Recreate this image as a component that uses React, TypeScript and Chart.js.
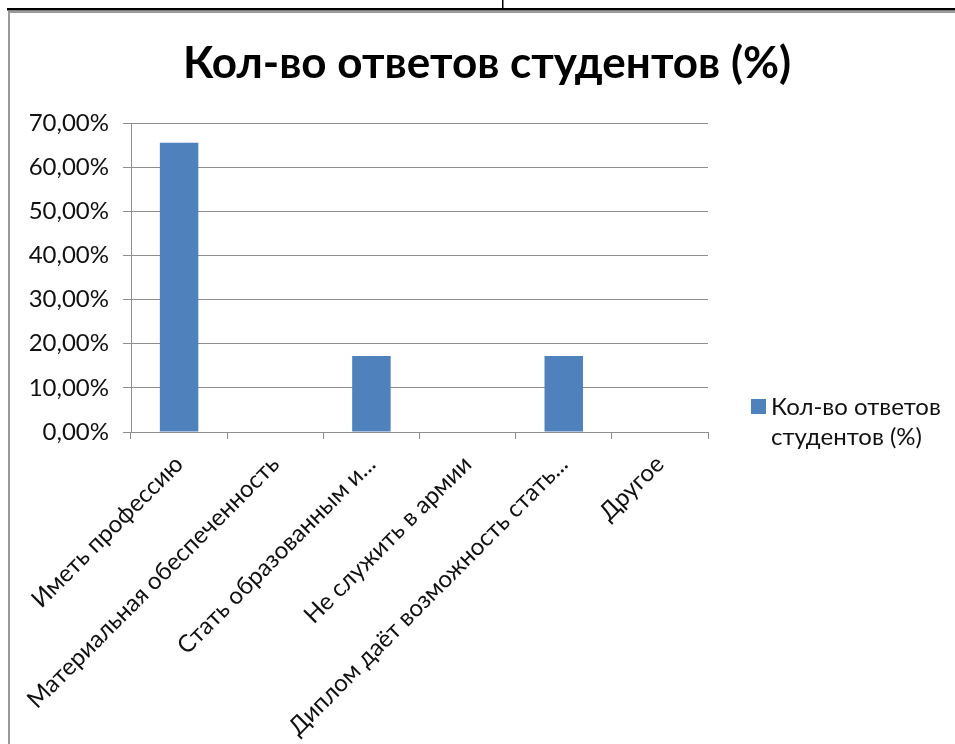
import React, { useEffect, useRef } from "react";
import { Chart, registerables } from "chart.js";

Chart.register(...registerables);

const CATEGORIES = [
  "Иметь профессию",
  "Материальная обеспеченность",
  "Стать образованным и...",
  "Не служить в армии",
  "Диплом даёт возможность стать...",
  "Другое",
];
const VALUES = [65.52, 0, 17.24, 0, 17.24, 0];
const SERIES_LABEL = "Кол-во ответов студентов (%)";
const TITLE = "Кол-во ответов студентов (%)";
const Y_MIN = 0;
const Y_MAX = 70;
const Y_STEP = 10;

const FONT = "Lato, 'Open Sans', sans-serif";
const BAR_COLOR = "#4F81BD";
const GRID_COLOR = "#8E8E8E";
const TEXT_COLOR = "#111111";
const FONT_SIZE = 24;

const framePlugin = {
  id: "frame",
  beforeDraw(chart: any) {
    const { ctx, width, height } = chart;
    ctx.save();
    ctx.fillStyle = "#ffffff";
    ctx.fillRect(0, 0, width, height);
    // table rule at top
    ctx.fillStyle = "#000000";
    ctx.fillRect(7, 8, width - 7, 2.5);
    ctx.fillRect(502, 0, 1.5, 9);
    // grey chart border
    ctx.strokeStyle = "#9a9a9a";
    ctx.lineWidth = 2;
    ctx.beginPath();
    ctx.moveTo(9, height);
    ctx.lineTo(9, 12);
    ctx.lineTo(width, 12);
    ctx.stroke();
    ctx.restore();
  },
};

const titlePlugin = {
  id: "centeredTitle",
  afterDraw(chart: any) {
    const { ctx } = chart;
    ctx.save();
    ctx.font = `bold 44px ${FONT}`;
    ctx.fillStyle = "#000000";
    ctx.textAlign = "center";
    ctx.textBaseline = "middle";
    ctx.fillText(TITLE, 487, 64);
    ctx.restore();
  },
};

const legendPlugin = {
  id: "customLegend",
  afterDraw(chart: any) {
    const { ctx } = chart;
    const ds = chart.data.datasets[0];
    ctx.save();
    ctx.font = `${FONT_SIZE}px ${FONT}`;
    const words = String(ds.label).split(" ");
    const maxW = 180;
    const lines: string[] = [];
    let cur = "";
    for (const w of words) {
      const t = cur ? cur + " " + w : w;
      if (ctx.measureText(t).width > maxW && cur) {
        lines.push(cur);
        cur = w;
      } else cur = t;
    }
    if (cur) lines.push(cur);
    ctx.fillStyle = ds.backgroundColor;
    ctx.fillRect(751, 399, 15, 15);
    ctx.fillStyle = TEXT_COLOR;
    ctx.textBaseline = "middle";
    ctx.textAlign = "left";
    lines.forEach((l, i) => ctx.fillText(l, 771, 407 + i * 30));
    ctx.restore();
  },
};

export default function App() {
  const ref = useRef<HTMLCanvasElement>(null);
  useEffect(() => {
    document.body.style.margin = "0";
    const chart = new Chart(ref.current as HTMLCanvasElement, {
      type: "bar",
      data: {
        labels: CATEGORIES,
        datasets: [
          {
            label: SERIES_LABEL,
            data: VALUES,
            backgroundColor: BAR_COLOR,
            borderWidth: 0,
            barPercentage: 0.4,
            categoryPercentage: 1,
          },
        ],
      },
      options: {
        responsive: false,
        animation: false,
        devicePixelRatio: 1,
        layout: { padding: { left: 12, right: 247, top: 123, bottom: 0 } },
        plugins: {
          legend: { display: false },
          tooltip: { enabled: false },
          title: { display: false },
        },
        scales: {
          x: {
            offset: true,
            grid: {
              offset: true,
              drawOnChartArea: false,
              drawTicks: true,
              tickLength: 7,
              color: GRID_COLOR,
            },
            border: { color: GRID_COLOR, width: 1 },
            ticks: {
              minRotation: 45,
              maxRotation: 45,
              autoSkip: false,
              color: TEXT_COLOR,
              font: { family: FONT, size: FONT_SIZE },
              padding: 11,
            },
            afterFit(scale: any) {
              scale.height = 312;
            },
          },
          y: {
            min: Y_MIN,
            max: Y_MAX,
            ticks: {
              stepSize: Y_STEP,
              color: TEXT_COLOR,
              font: { family: FONT, size: FONT_SIZE },
              padding: 14,
              callback: (v: any) => Number(v).toFixed(2).replace(".", ",") + "%",
            },
            grid: { color: GRID_COLOR, tickLength: 8, drawTicks: true },
            border: { color: GRID_COLOR, width: 1 },
            afterFit(scale: any) {
              scale.width = 119;
            },
          },
        },
      },
      plugins: [framePlugin, titlePlugin, legendPlugin],
    });
    return () => chart.destroy();
  }, []);
  return (
    <div style={{ position: "absolute", left: 0, top: 0, width: 955, height: 744 }}>
      <canvas ref={ref} width={955} height={744} style={{ width: 955, height: 744 }} />
    </div>
  );
}
